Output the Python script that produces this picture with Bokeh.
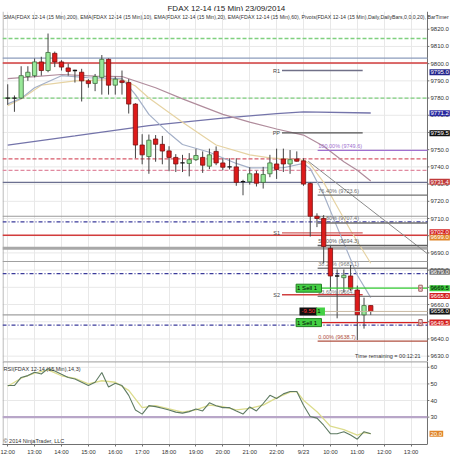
from bokeh.plotting import figure
from bokeh.layouts import column
from bokeh.models import (Range1d, FixedTicker, Label, ColumnDataSource)
from bokeh.core.properties import value
from bokeh.embed import file_html
from bokeh.resources import INLINE

FONT = "Liberation Sans"

# ---------------- data ----------------
title_text = "FDAX 12-14 (15 Min)  23/09/2014"
legend_text = ("SMA(FDAX 12-14 (15 Min),200), EMA(FDAX 12-14 (15 Min),10), EMA(FDAX 12-14 (15 Min),20), "
               "EMA(FDAX 12-14 (15 Min),60), Pivots(FDAX 12-14 (15 Min),Daily,DailyBars,0,0,0,20), BarTimer")

bar_idx = list(range(55))
opens = [9780.0, 9780.0, 9780.0, 9792.5, 9793.0, 9801.0, 9796.0, 9806.0, 9801.0, 9797.5,
         9796.0, 9795.0, 9790.0, 9788.5, 9792.0, 9802.5, 9787.5, 9790.0, 9789.0, 9776.5,
         9752.7, 9746.0, 9756.2, 9753.1, 9749.3, 9745.5, 9742.3, 9742.0, 9744.2, 9745.5,
         9740.4, 9749.0, 9742.3, 9740.0, 9740.0, 9731.4, 9731.4, 9736.0, 9731.0, 9736.0,
         9741.7, 9744.6, 9741.7, 9744.6, 9743.5, 9730.3, 9711.3, 9710.0, 9692.7, 9676.6,
         9675.6, 9676.6, 9668.4, 9654.0, 9659.4]
highs = [9788.0, 9781.5, 9798.5, 9798.5, 9803.0, 9804.0, 9817.5, 9807.0, 9802.0, 9800.0,
         9796.5, 9797.0, 9791.0, 9794.0, 9805.0, 9803.0, 9792.5, 9796.0, 9791.0, 9777.0,
         9759.0, 9758.8, 9758.5, 9758.0, 9752.0, 9747.4, 9747.0, 9748.0, 9750.5, 9749.0,
         9750.6, 9751.9, 9745.0, 9745.0, 9745.0, 9732.5, 9739.8, 9737.7, 9740.0, 9747.0,
         9750.6, 9750.6, 9749.8, 9749.0, 9745.0, 9731.0, 9713.0, 9712.0, 9694.0, 9680.4,
         9680.4, 9683.0, 9671.0, 9664.0, 9659.5]
lows = [9776.0, 9772.0, 9779.5, 9790.0, 9792.0, 9793.0, 9795.0, 9798.0, 9796.0, 9793.0,
        9789.0, 9778.0, 9786.0, 9784.0, 9782.0, 9782.0, 9782.0, 9782.0, 9771.0, 9745.0,
        9741.5, 9736.0, 9743.0, 9741.5, 9737.5, 9737.0, 9737.0, 9734.5, 9743.5, 9736.5,
        9738.7, 9741.0, 9738.0, 9738.5, 9729.0, 9723.5, 9729.7, 9728.6, 9727.4, 9734.0,
        9733.0, 9737.0, 9736.0, 9743.0, 9729.0, 9699.5, 9705.0, 9684.0, 9668.0, 9652.0,
        9667.0, 9668.0, 9639.4, 9646.0, 9654.0]
closes = [9780.0, 9780.0, 9793.0, 9795.0, 9801.0, 9796.0, 9806.5, 9801.0, 9798.0, 9795.5,
          9796.0, 9790.0, 9788.4, 9792.5, 9802.5, 9787.5, 9791.0, 9789.0, 9776.5, 9752.7,
          9747.0, 9755.5, 9753.1, 9749.2, 9745.5, 9741.7, 9742.3, 9744.2, 9746.6, 9741.0,
          9747.0, 9742.3, 9739.8, 9740.0, 9731.0, 9731.4, 9736.0, 9730.5, 9735.6, 9742.3,
          9738.5, 9741.7, 9744.2, 9743.3, 9730.0, 9711.3, 9710.0, 9693.7, 9676.6, 9676.6,
          9677.0, 9669.0, 9654.1, 9659.4, 9656.0]

ema10_idx = [0, 2, 4, 8, 12, 17, 19, 21, 24, 26, 30, 34, 36, 41, 44, 45, 47, 49, 52, 54]
ema10_val = [9776.6, 9779.8, 9786.0, 9793.0, 9791.8, 9791.3, 9782.0, 9770.5, 9759.5, 9753.0,
             9748.5, 9742.0, 9739.4, 9739.5, 9742.0, 9739.0, 9724.0, 9705.0, 9677.0, 9664.0]
ema20_idx = [0, 2, 5, 10, 17, 19, 21, 26, 31, 36, 39, 44, 45, 47, 49, 51, 54]
ema20_val = [9775.6, 9779.5, 9787.5, 9790.0, 9790.9, 9787.0, 9780.0, 9766.0, 9752.7, 9747.0,
             9745.2, 9744.0, 9741.5, 9731.0, 9717.0, 9703.0, 9684.0]
ema60_idx = [0, 4, 8, 13, 17, 22, 26, 32, 36, 40, 44, 47, 50, 52, 54]
ema60_val = [9791.3, 9792.4, 9793.7, 9792.7, 9792.5, 9786.0, 9779.5, 9770.5, 9766.0, 9762.0,
             9758.5, 9752.0, 9743.0, 9738.0, 9731.8]
sma200_idx = [0, 10, 21, 32, 40, 44, 54]
sma200_val = [9752.7, 9758.0, 9764.0, 9768.3, 9771.0, 9772.0, 9771.3]

# full-width horizontal levels
hl_price = [9814.6, 9803.2, 9800.3, 9780.0, 9744.7, 9738.0, 9731.0, 9711.3, 9708.0,
            9700.3, 9692.7, 9685.0, 9678.0, 9654.0, 9648.0]
hl_color = ["#7FD07F", "#8C9CBC", "#D23C3C", "#7FD07F", "#D85A6A", "#E08AA0", "#6C7090",
            "#9A9A9A", "#3A3A9A", "#D23C3C", "#A8A8A8", "#A0A0A0", "#3A3A9A", "#A0A0A0", "#3A3A9A"]
hl_dash = ["4 2", "solid", "solid", "4 2", "4 2", "4 2", "solid", "solid", "4 2 1 2",
           "solid", "solid", "solid", "4 2 1 2", "solid", "4 2 1 2"]
hl_width = [1.3, 1.3, 1.5, 1.3, 1.2, 1.2, 1.2, 1.2, 1.2, 1.5, 3.0, 1.2, 1.2, 1.2, 1.2]

# pivots
piv_name = ["R1", "PP", "S1", "S2"]
piv_val = [9796.0, 9759.8, 9701.7, 9665.7]
piv_color = ["#707088", "#505050", "#D06060", "#D04040"]
piv_start, piv_end = 40.8, 52.8

# Fibonacci retracement
fib_pct = ["100.00%", "76.40%", "61.80%", "50.00%", "38.20%", "23.60%", "0.00%"]
fib_val = [9749.6, 9723.6, 9707.4, 9694.3, 9681.1, 9664.8, 9638.7]
fib_color = ["#A070D0", "#707070", "#707070", "#606060", "#808080", "#808080", "#B05040"]
fib_start = 46.1

# drawn trend line
diag_x = [44.7, 62.44]
diag_y = [9743.3, 9689.5]

# orders / position
order_val = [9669.5, 9649.5]
order_text = ["1  Sell  1", "1  Sell  1"]
order_line = ["#33CC33", "#D42020"]
pos_val = 9656.0
pos_text = "-9.50"

# right-axis value flags
flag_val = [9795.0, 9771.2, 9759.5, 9731.4, 9702.0, 9699.0, 9679.0, 9669.5, 9665.0, 9656.0, 9649.5]
flag_bg = ["#22228A", "#2A2AA0", "#111111", "#C03A3A", "#D42020", "#E0862A", "#6E6E6E",
           "#3CCB3C", "#D42020", "#111111", "#D42020"]
flag_fg = ["white", "white", "white", "white", "white", "white", "white", "black", "white",
           "white", "white"]

price_ticks = [9630, 9640, 9650, 9660, 9670, 9680, 9690, 9700, 9710, 9720, 9730, 9740, 9750,
               9760, 9770, 9780, 9790, 9800, 9810, 9820]
tick_idx = [0, 4, 8, 12, 16, 20, 24, 28, 32, 36, 40, 44, 48, 52, 56, 60]
tick_lbl = ["12:00", "13:00", "14:00", "15:00", "16:00", "17:00", "18:00", "19:00", "20:00",
            "21:00", "22:00", "9/23", "10:00", "11:00", "12:00", "13:00"]

rsi_val = [49, 49, 53.9, 55, 57, 56, 59.2, 57.8, 55.8, 53.9,
           53, 51, 49, 51, 56.9, 48.1, 50.4, 49, 43.1, 34.3,
           31.8, 36.9, 36.3, 35.3, 34.3, 33, 32.4, 33.3, 34.9, 33.7,
           38.6, 36.9, 35.7, 35.7, 33.7, 31.8, 36.1, 33.7, 38.2, 43.1,
           41.2, 44, 45.4, 45.4, 37.2, 30.4, 29.4, 25.1, 20, 20,
           21.2, 19.2, 16.7, 21.2, 20]
sig_idx = [0, 2, 4, 6, 8, 10, 12, 14, 16, 18, 20, 22, 24, 26, 28, 30, 32, 34, 36, 38,
           40, 42, 43, 44, 46, 48, 50, 52, 53, 54]
sig_val = [48.6, 53.4, 56.5, 58.4, 54.9, 53.4, 50, 51.9, 51, 46.1,
           35.7, 36.9, 34.9, 33, 34.3, 37.2, 36.3, 34.3, 35.3, 37.2,
           41.6, 45.1, 45.4, 40.2, 33.3, 24.5, 22.5, 19.2, 20.6, 20]
rsi_ticks = [30, 40, 50, 60]
rsi_level = 30

# ---------------- layout ----------------
W = 452
PXU = 6.723                      # pixels per bar
X0 = -0.774                      # left edge of the panels
X1 = 62.44                       # right edge of the panels (price scale line)
XR = X0 + (W - 2) / PXU          # right edge of the canvas (scale labels area)
P0, P1 = 9626.9, 9830.3
R0, R1 = 13.5, 63.5
GRID = "#E8E8E8"
AXC = "#707070"


def scale(fig, ticks, fmt, lo, hi, border):
    """price-scale on the right of the panel, drawn inside the extended frame"""
    fig.segment(x0=[X0] * len(ticks), y0=ticks, x1=[X1] * len(ticks), y1=ticks,
                line_color=GRID, line_width=1, level="underlay")
    fig.segment(x0=[X1], y0=[lo], x1=[X1], y1=[hi], line_color=AXC, line_width=1)
    fig.segment(x0=[X0 + 0.08], y0=[lo], x1=[X0 + 0.08], y1=[hi], line_color=border, line_width=1)
    fig.segment(x0=[X1] * len(ticks), y0=ticks, x1=[X1 + 0.28] * len(ticks), y1=ticks,
                line_color=AXC, line_width=1)
    fig.text(x=[X1 + 0.45] * len(ticks), y=ticks, text=[fmt % t for t in ticks],
             text_align="left", text_baseline="middle", text_font_size="6px",
             text_font=value(FONT), text_color="#333333")


# title strip
tf = figure(width=W, height=11, x_range=Range1d(0, W), y_range=Range1d(0, 11),
            toolbar_location=None, output_backend="svg", min_border=0,
            x_axis_location=None, y_axis_location=None, outline_line_color=None)
tf.grid.visible = False
tf.add_layout(Label(x=W / 2, y=4.5, text=title_text, text_align="center",
                    text_baseline="middle", text_font_size="8px", text_font=FONT,
                    text_color="#222222"))

# price panel
p = figure(width=W, height=350, x_range=Range1d(X0, XR), y_range=Range1d(P0, P1),
           toolbar_location=None, output_backend="svg",
           min_border_left=2, min_border_right=0, min_border_top=0, min_border_bottom=0,
           x_axis_location=None, y_axis_location=None)
p.outline_line_color = None
p.ygrid.visible = False
p.xgrid.ticker = FixedTicker(ticks=tick_idx)
p.xgrid.grid_line_color = GRID
scale(p, price_ticks, "%.1f", P0, P1, "#A8A8A8")

for y, c, d, w in zip(hl_price, hl_color, hl_dash, hl_width):
    p.segment(x0=[X0], y0=[y], x1=[X1], y1=[y], line_color=c, line_dash=d, line_width=w)

# indicator lines
p.line(sma200_idx, sma200_val, line_color="#7474AA", line_width=1.3)
p.line(ema60_idx, ema60_val, line_color="#B08C9C", line_width=1.2)
p.line(ema20_idx, ema20_val, line_color="#E6D3A3", line_width=1.2)
p.line(ema10_idx, ema10_val, line_color="#A4B0C8", line_width=1.2)
p.line(diag_x, diag_y, line_color="#8A8A8A", line_width=1)

# pivots
for n, v, c in zip(piv_name, piv_val, piv_color):
    p.segment(x0=[piv_start], y0=[v], x1=[piv_end], y1=[v], line_color=c, line_width=1.3)
    p.text(x=[piv_start - 0.3], y=[v], text=[n], text_align="right", text_baseline="middle",
           text_font_size="5.5px", text_font=value(FONT), text_color="#444444")

# fib
for pc, v, c in zip(fib_pct, fib_val, fib_color):
    p.segment(x0=[fib_start], y0=[v], x1=[X1], y1=[v], line_color=c, line_width=1.3)
    p.text(x=[fib_start + 0.1], y=[v + 0.9], text=["%s (%.1f)" % (pc, v)], text_align="left",
           text_baseline="bottom", text_font_size="5.5px", text_font=value(FONT), text_color=c)

# candles
up = [c > o for o, c in zip(opens, closes)]
doji = [abs(c - o) < 0.05 for o, c in zip(opens, closes)]
src = ColumnDataSource(dict(
    x=bar_idx, h=highs, l=lows,
    top=[max(o, c) for o, c in zip(opens, closes)],
    bot=[min(o, c) for o, c in zip(opens, closes)],
    fill=["#98E898" if u else "#DD1A1A" for u in up],
    edge=["#3F6F3F" if u else "#7A1010" for u in up],
))
p.segment(x0="x", y0="l", x1="x", y1="h", source=src, line_color="#444444", line_width=1)
body_src = ColumnDataSource({k: [v for v, d in zip(vals, doji) if not d]
                             for k, vals in src.data.items()})
p.vbar(x="x", top="top", bottom="bot", width=0.64, fill_color="fill", line_color="edge",
       line_width=0.8, source=body_src)
dx = [x for x, d in zip(bar_idx, doji) if d]
dy = [c for c, d in zip(closes, doji) if d]
p.segment(x0=[x - 0.32 for x in dx], y0=dy, x1=[x + 0.32 for x in dx], y1=dy,
          line_color="#111111", line_width=1.3)

# orders
for v, t, lc in zip(order_val, order_text, order_line):
    p.segment(x0=[46.6], y0=[v], x1=[X1], y1=[v], line_color=lc, line_width=1.2)
    p.add_layout(Label(x=42.9, y=v, text=t, text_baseline="middle", text_font_size="6px",
                       text_font=FONT, text_color="black", background_fill_color="#44D044",
                       border_line_color="#208020", padding=1))
    p.add_layout(Label(x=61.4, y=v, text="×", text_baseline="middle", text_align="center",
                       text_font_size="6px", text_font=FONT, text_color="#B03030",
                       background_fill_color="#F4E0E0", border_line_color="#A06060", padding=0))
p.segment(x0=[46.6], y0=[pos_val], x1=[X1], y1=[pos_val], line_color="#C8B8A0", line_width=1)
p.add_layout(Label(x=43.4, y=pos_val, text=pos_text, text_baseline="middle",
                   text_font_size="6px", text_font=FONT, text_color="#FF3030",
                   background_fill_color="#111111", padding=2))
p.add_layout(Label(x=45.9, y=pos_val, text=" 1 ", text_baseline="middle",
                   text_font_size="6px", text_font=FONT, text_color="black",
                   background_fill_color="#44D044", padding=1))

# texts
p.add_layout(Label(x=X0 + 0.15, y=9827.2, text=legend_text, text_baseline="middle",
                   text_font_size="5.2px", text_font=FONT, text_color="#333333"))
p.add_layout(Label(x=61.4, y=9630.3, text="Time remaining = 00:12:21", text_align="right",
                   text_baseline="middle", text_font_size="5.5px", text_font=FONT,
                   text_color="#333333"))

# right flags
for v, bg, fg in zip(flag_val, flag_bg, flag_fg):
    p.add_layout(Label(x=X1 + 0.3, y=v, text="%.1f" % v, text_baseline="middle",
                       text_font_size="6px", text_font=FONT, text_color=fg,
                       background_fill_color=bg, padding=1))

# RSI panel
r = figure(width=W, height=104, x_range=p.x_range, y_range=Range1d(R0, R1),
           toolbar_location=None, output_backend="svg",
           min_border_left=2, min_border_right=0, min_border_top=0, min_border_bottom=21,
           x_axis_location="below", y_axis_location=None)
r.outline_line_color = None
r.xaxis.ticker = FixedTicker(ticks=tick_idx)
r.xaxis.major_label_overrides = {t: s for t, s in zip(tick_idx, tick_lbl)}
r.xaxis.bounds = (X0, X1)
ax = r.xaxis[0]
ax.major_label_text_font_size = "5.8px"
ax.major_label_text_font = FONT
ax.major_label_text_color = "#333333"
ax.major_tick_out = 2
ax.major_tick_in = 0
ax.minor_tick_out = 0
ax.minor_tick_in = 0
ax.major_label_standoff = 2
ax.axis_line_color = AXC
ax.major_tick_line_color = AXC
r.ygrid.visible = False
r.xgrid.ticker = FixedTicker(ticks=tick_idx)
r.xgrid.grid_line_color = GRID
scale(r, rsi_ticks, "%d", R0, R1, "#A8A8A8")
r.segment(x0=[X0], y0=[R1 - 0.15], x1=[X1], y1=[R1 - 0.15], line_color="#606060", line_width=1.2)
r.segment(x0=[X0], y0=[rsi_level], x1=[X1], y1=[rsi_level], line_color="#B8A6C8", line_width=2.2)
r.line(sig_idx, sig_val, line_color="#DCDC8C", line_width=1.3)
r.line(bar_idx, rsi_val, line_color="#5E7A62", line_width=1.1)
r.add_layout(Label(x=X0 + 0.15, y=58.8, text="RSI(FDAX 12-14 (15 Min),14,3)",
                   text_baseline="middle", text_font_size="5.5px", text_font=FONT,
                   text_color="#333333"))
r.add_layout(Label(x=X0 + 0.15, y=15.4, text="© 2014 NinjaTrader, LLC",
                   text_baseline="middle", text_font_size="5.5px", text_font=FONT,
                   text_color="#333333"))
r.add_layout(Label(x=X1 + 0.3, y=rsi_val[-1], text="%.1f" % rsi_val[-1], text_baseline="middle",
                   text_font_size="6px", text_font=FONT, text_color="white",
                   background_fill_color="#E0862A", padding=1))

layout = column(tf, p, r, spacing=0)
open("out.html", "w").write(file_html(layout, INLINE))
